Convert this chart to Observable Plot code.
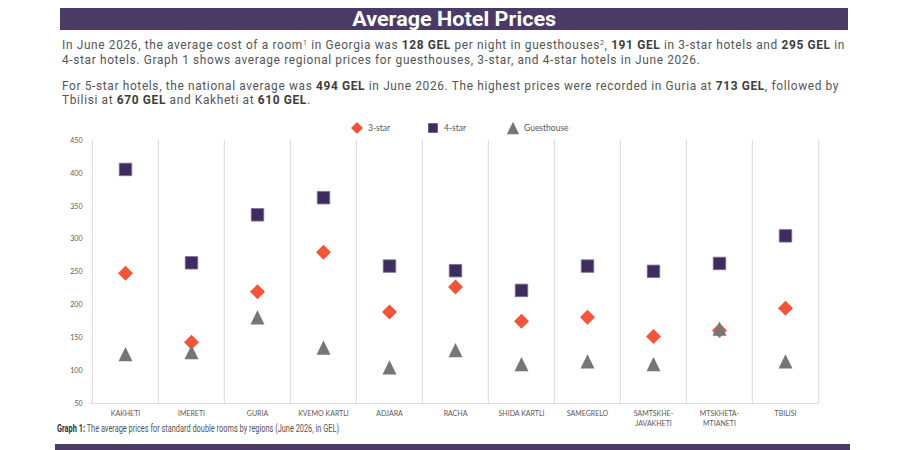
<!DOCTYPE html>
<html>
<head>
<meta charset="utf-8">
<script src="https://cdn.jsdelivr.net/npm/d3@7"></script>
<script src="https://cdn.jsdelivr.net/npm/@observablehq/plot@0.6"></script>
<style>
  html, body { margin: 0; padding: 0; background: #fff; width: 900px; height: 450px; overflow: hidden; }
  #page { position: relative; width: 900px; height: 450px; }
  .band { position: absolute; background: #4b3a66; color: #fff; text-align: center; overflow: hidden;
          font-family: Roboto, sans-serif; font-weight: 700; }
  .band span { display: inline-block; white-space: nowrap; transform-origin: 50% 50%; }
  #title { left: 60px; top: 8px; width: 788px; height: 22px; line-height: 22px; font-size: 21px; }
  #nextTitle { left: 55px; top: 444px; width: 795px; height: 24px; line-height: 30px; font-size: 21px; }
  .para { position: absolute; left: 62px; font-family: Roboto, sans-serif; color: #555; font-size: 11.9px; }
  .para div { white-space: nowrap; line-height: 13.6px; width: max-content; }
  .para b { color: #3d3d3d; }
  .para sup { font-size: 0.6em; vertical-align: baseline; position: relative; top: -0.6em; }
  #p1 { top: 39px; }
  #p2 { top: 80px; }
  .leg { position: absolute; top: 121px; height: 14px; display: flex; align-items: center;
         font-family: Lato, sans-serif; font-size: 8.5px; color: #595959; }
  .leg svg { margin-right: 4px; }
  #chart { position: absolute; left: 55px; top: 132px; }
  #caption { position: absolute; left: 57px; top: 423px; white-space: nowrap; width: max-content; transform-origin: 0 50%;
             font-family: Roboto, sans-serif; font-size: 10.5px; line-height: 12px; color: #555; }
  #caption b { color: #333; }
</style>
</head>
<body>
<div id="page">
  <div id="title" class="band"><span id="titleText">Average Hotel Prices</span></div>
  <div id="p1" class="para">
    <div>In June 2026, the average cost of a room<sup>1</sup> in Georgia was <b>128 GEL</b> per night in guesthouses<sup>2</sup>, <b>191 GEL</b> in 3-star hotels and <b>295 GEL</b> in</div>
    <div>4-star hotels. Graph 1 shows average regional prices for guesthouses, 3-star, and 4-star hotels in June 2026.</div>
  </div>
  <div id="p2" class="para">
    <div>For 5-star hotels, the national average was <b>494 GEL</b> in June 2026. The highest prices were recorded in Guria at <b>713 GEL</b>, followed by</div>
    <div>Tbilisi at <b>670 GEL</b> and Kakheti at <b>610 GEL</b>.</div>
  </div>
  <div id="legend"></div>
  <div id="chart"></div>
  <div id="caption"><b>Graph 1:</b> The average prices for standard double rooms by regions (June 2026, in GEL)</div>
  <div id="nextTitle" class="band"><span>Hotel Price Dynamics</span></div>
</div>
<script>
// Average price per night (GEL), June 2026, by region
const regions = ["KAKHETI", "IMERETI", "GURIA", "KVEMO KARTLI", "ADJARA", "RACHA",
                 "SHIDA KARTLI", "SAMEGRELO", "SAMTSKHE-JAVAKHETI", "MTSKHETA-MTIANETI", "TBILISI"];
const threeStar  = [248, 143, 220, 280, 189, 227, 175, 181, 152, 161, 195];
const fourStar   = [406, 264, 337, 363, 259, 252, 222, 259, 251, 263, 305];
const guesthouse = [125, 128, 181, 135, 105, 131, 110, 114, 110, 164, 114];
const yTicks = [50, 100, 150, 200, 250, 300, 350, 400, 450];

const seriesNames = ["3-star", "4-star", "Guesthouse"];
const seriesColors = {"3-star": "#f2553a", "4-star": "#3f2c5e", "Guesthouse": "#767676"};

// Marker shapes, centred on their bounding box
const diamondSym = {draw(c, size) { const h = Math.sqrt(size) * 0.6; c.moveTo(0, -h); c.lineTo(h, 0); c.lineTo(0, h); c.lineTo(-h, 0); c.closePath(); }};
const squareSym = {draw(c, size) { const s = Math.sqrt(size) * 0.5; c.moveTo(-s, -s); c.lineTo(s, -s); c.lineTo(s, s); c.lineTo(-s, s); c.closePath(); }};
const triangleSym = {draw(c, size) { const w = Math.sqrt(size) * 0.56, h = Math.sqrt(size) * 0.57; c.moveTo(0, -h); c.lineTo(w, h); c.lineTo(-w, h); c.closePath(); }};
const symbols = {"3-star": diamondSym, "4-star": squareSym, "Guesthouse": triangleSym};

const rows = (values, series) => values.map((v, i) => ({region: regions[i], value: v, series}));
const data3 = rows(threeStar, "3-star");
const data4 = rows(fourStar, "4-star");
const dataG = rows(guesthouse, "Guesthouse");

// Legend
const legendLefts = {"3-star": 350, "4-star": 426, "Guesthouse": 506};
const legendSizes = {"3-star": 100, "4-star": 90, "Guesthouse": 120};
const legend = document.getElementById("legend");
for (const name of seriesNames) {
  const item = document.createElement("div");
  item.className = "leg";
  item.style.left = legendLefts[name] + "px";
  const svg = d3.create("svg").attr("width", 14).attr("height", 14);
  svg.append("path")
    .attr("transform", "translate(7,7)")
    .attr("d", d3.symbol(symbols[name], legendSizes[name])())
    .attr("fill", seriesColors[name]);
  item.appendChild(svg.node());
  const label = document.createElement("span");
  label.textContent = name;
  item.appendChild(label);
  legend.appendChild(item);
}

// Chart
const W = 780, H = 300;
const ml = 35, mr = 16, mt = 8, mb = 29;
const bw = (W - ml - mr) / regions.length;
const grid = "#dedede";
const r = 12.5 / Math.sqrt(Math.PI);

const chart = Plot.plot({
  width: W, height: H,
  marginLeft: ml, marginRight: mr, marginTop: mt, marginBottom: mb,
  style: {fontFamily: "Lato, sans-serif", background: "transparent", overflow: "visible"},
  x: {type: "band", domain: regions, padding: 0, axis: null},
  y: {domain: [50, 450]},
  marks: [
    Plot.ruleX(regions, {x: d => d, dx: -bw / 2, stroke: grid, strokeWidth: 1.2}),
    Plot.ruleX(regions.slice(-1), {x: d => d, dx: bw / 2, stroke: grid, strokeWidth: 1.2}),
    Plot.ruleY([50], {stroke: grid, strokeWidth: 1.2}),
    Plot.axisY({ticks: yTicks, tickSize: 0, tickPadding: 8, fontSize: 7, fill: "#595959", label: null}),
    Plot.text(regions, {x: d => d, text: d => d.replace("-", "-\n"), frameAnchor: "bottom", lineAnchor: "top",
                        dy: 5, fontSize: 7, lineHeight: 1.5, fill: "#595959"}),
    Plot.dot(data3, {x: "region", y: "value", symbol: diamondSym, r, fill: seriesColors["3-star"], stroke: "none"}),
    Plot.dot(data4, {x: "region", y: "value", symbol: squareSym, r, fill: seriesColors["4-star"], stroke: "#7d6f96", strokeWidth: 0.8}),
    Plot.dot(dataG, {x: "region", y: "value", symbol: triangleSym, r, fill: seriesColors["Guesthouse"], stroke: "none"})
  ]
});
document.getElementById("chart").appendChild(chart);

// Stretch each paragraph line (letter spacing) to the text column width
function spreadLine(el, target) {
  const n = el.textContent.length;
  const w = el.getBoundingClientRect().width;
  return (target - w) / n;
}
const p1Lines = document.querySelectorAll("#p1 div");
const ls = spreadLine(p1Lines[0], 783);
for (const p of document.querySelectorAll(".para")) p.style.letterSpacing = ls + "px";

// Horizontal scaling of the banner titles and the caption
function scaleTo(el, target) {
  const w = el.getBoundingClientRect().width;
  el.style.transform = `scaleX(${target / w})`;
}
scaleTo(document.getElementById("titleText"), 204);
scaleTo(document.querySelector("#nextTitle span"), 215);
scaleTo(document.getElementById("caption"), 282);
</script>
</body>
</html>
